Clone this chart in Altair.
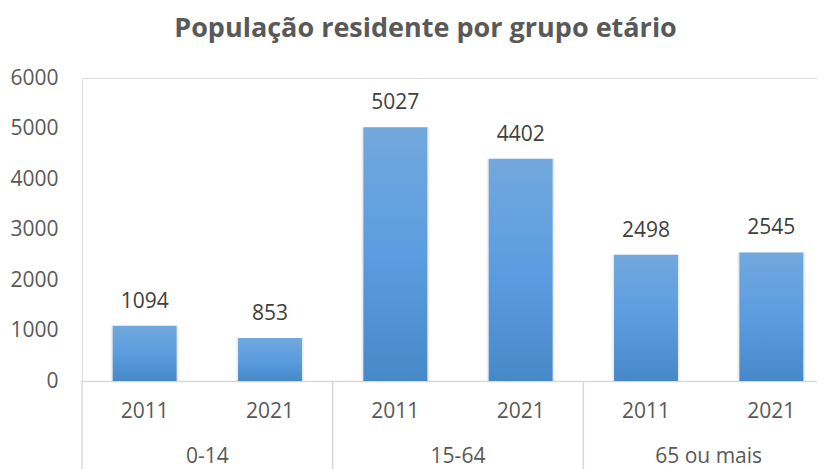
import altair as alt
import pandas as pd

groups = ["0-14", "0-14", "15-64", "15-64", "65 ou mais", "65 ou mais"]
years = ["2011", "2021", "2011", "2021", "2011", "2021"]
values = [1094, 853, 5027, 4402, 2498, 2545]
group_names = ["0-14", "15-64", "65 ou mais"]
y_ticks = [0, 1000, 2000, 3000, 4000, 5000, 6000]

keys = [f"{g}|{y}" for g, y in zip(groups, years)]
df = pd.DataFrame({"key": keys, "group": groups, "year": years, "value": values})

first_keys = [f"{g}|2011" for g in group_names]
mid_keys = [f"{g}|2021" for g in group_names]
gdf = pd.DataFrame({"group": group_names, "first": first_keys, "mid": mid_keys})

FONT = "Open Sans"
FS = 21
W, H = 735, 303
xscale = alt.Scale(domain=keys, range=[0, 752], paddingInner=0, paddingOuter=0)
yscale = alt.Scale(domain=[0, 6000], nice=False)

base = alt.Chart(df)

x_enc = alt.X("key:N", scale=xscale, sort=keys,
              axis=alt.Axis(labels=False, ticks=False, title=None, domain=True,
                            domainColor="#d9d9d9", domainWidth=1.5))
y_enc = alt.Y("value:Q", scale=yscale,
              axis=alt.Axis(values=y_ticks, format="d", title=None, grid=False, ticks=False,
                            domain=False, labelPadding=24, labelFont=FONT,
                            labelFontSize=FS, labelColor="#595959"))

shadow1 = base.mark_bar(width=alt.RelativeBandSize(0.55), color="#000000", opacity=0.035).encode(
    x=x_enc, y=y_enc)
shadow2 = base.mark_bar(width=alt.RelativeBandSize(0.53), color="#000000", opacity=0.05).encode(
    x=x_enc, y=y_enc)

grad = alt.Gradient(
    gradient="linear",
    stops=[alt.GradientStop(color="#72a8dd", offset=0),
           alt.GradientStop(color="#5b9de0", offset=0.5),
           alt.GradientStop(color="#4788c8", offset=1)],
    x1=0, x2=0, y1=0, y2=1)

bars = base.mark_bar(width=alt.RelativeBandSize(0.51), color=grad).encode(x=x_enc, y=y_enc)

labels = base.mark_text(font=FONT, fontSize=FS, color="#404040", baseline="middle", dy=-24).encode(
    x=alt.X("key:N", scale=xscale, sort=keys), y=alt.Y("value:Q", scale=yscale),
    text=alt.Text("value:Q", format="d"))

year_labels = base.mark_text(font=FONT, fontSize=FS, color="#595959", baseline="middle").encode(
    x=alt.X("key:N", scale=xscale, sort=keys), y=alt.value(H + 31), text="year:N")

gbase = alt.Chart(gdf)
group_labels = gbase.mark_text(font=FONT, fontSize=FS, color="#595959", baseline="middle").encode(
    x=alt.X("mid:N", scale=xscale, sort=keys, bandPosition=0), y=alt.value(H + 76), text="group:N")

separators = gbase.mark_rule(color="#d9d9d9", strokeWidth=1.5).encode(
    x=alt.X("first:N", scale=xscale, sort=keys, bandPosition=0),
    y=alt.value(H), y2=alt.value(H + 95))

chart = alt.layer(separators, shadow1, shadow2, bars, labels, year_labels, group_labels).properties(
    width=W, height=H,
    title=alt.TitleParams("População residente por grupo etário", font=FONT, fontSize=27,
                          fontWeight="bold", color="#595959", anchor="middle", dx=-24, offset=24),
    autosize=alt.AutoSizeParams(type="none"),
    padding={"left": 74, "top": 70, "right": 0, "bottom": 88},
).configure_view(stroke=None).configure(background="white")

chart.save("out.html", embed_options={"renderer": "svg", "actions": False})
